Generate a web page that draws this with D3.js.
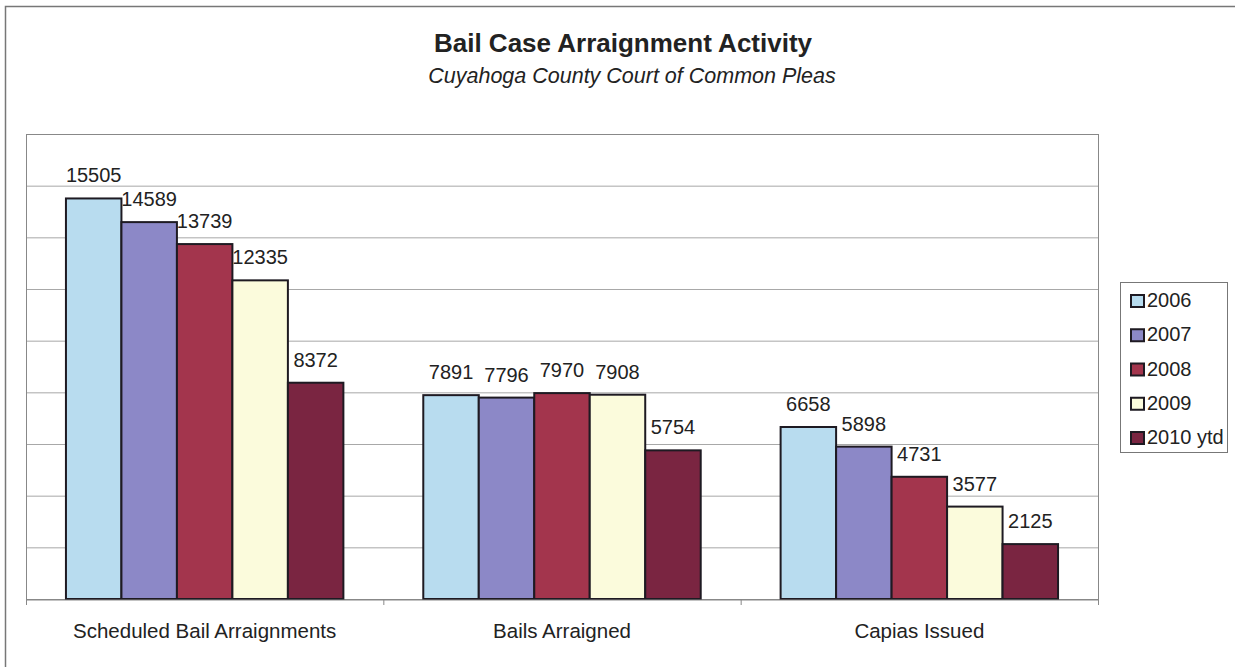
<!DOCTYPE html>
<html><head><meta charset="utf-8">
<script src="https://cdn.jsdelivr.net/npm/d3@7"></script>
<style>body{margin:0;background:#fff}svg{display:block;font-family:"Liberation Sans",Arial,sans-serif}</style>
</head><body><svg id="c" width="1235" height="667"></svg>
<script>
const categories = ["Scheduled Bail Arraignments", "Bails Arraigned", "Capias Issued"];
const seriesNames = ["2006", "2007", "2008", "2009", "2010 ytd"];
const v2006 = [15505, 7891, 6658];
const v2007 = [14589, 7796, 5898];
const v2008 = [13739, 7970, 4731];
const v2009 = [12335, 7908, 3577];
const v2010 = [8372, 5754, 2125];
const colors = ["#b8dcef", "#8c88c7", "#a3354d", "#fbfbdc", "#7a2541"];
const yTicks = [0, 2000, 4000, 6000, 8000, 10000, 12000, 14000, 16000, 18000];

const series = [v2006, v2007, v2008, v2009, v2010];
const svg = d3.select("#c");
const L = 26, R = 1098, T = 134, B = 599;

svg.append("rect").attr("x", 5.5).attr("y", 6.5).attr("width", 1260).attr("height", 700)
  .attr("fill", "none").attr("stroke", "#777").attr("stroke-width", 1.5);

svg.append("text").attr("x", 623).attr("y", 52).attr("text-anchor", "middle")
  .attr("font-size", 26).attr("font-weight", "bold").attr("fill", "#222").text("Bail Case Arraignment Activity");
svg.append("text").attr("x", 632).attr("y", 83).attr("text-anchor", "middle")
  .attr("font-size", 21.5).attr("font-style", "italic").attr("fill", "#222").text("Cuyahoga County Court of Common Pleas");

const y = d3.scaleLinear().domain([0, 18000]).range([B, T]);
const x0 = d3.scaleBand().domain(categories).range([L, R]).paddingInner(0).paddingOuter(0);
const x1 = d3.scaleBand().domain(seriesNames).range([0, x0.bandwidth()]).paddingInner(0).paddingOuter(0.72);

// gridlines
svg.append("g").selectAll("line").data(yTicks.slice(1)).join("line")
  .attr("x1", L).attr("x2", R).attr("y1", d => y(d) + 0.5).attr("y2", d => y(d) + 0.5)
  .attr("stroke", "#a8a8a8").attr("stroke-width", 1);
svg.append("rect").attr("x", L + 0.5).attr("y", T + 0.5).attr("width", R - L).attr("height", B - T)
  .attr("fill", "none").attr("stroke", "#888").attr("stroke-width", 1);

// bars
const groups = svg.append("g").selectAll("g").data(categories).join("g")
  .attr("transform", d => `translate(${x0(d)},0)`);
groups.selectAll("rect").data((c, ci) => seriesNames.map((s, si) => ({s, si, v: series[si][ci]}))).join("rect")
  .attr("x", d => x1(d.s)).attr("width", x1.bandwidth())
  .attr("y", d => y(d.v)).attr("height", d => B - y(d.v))
  .attr("fill", d => colors[d.si]).attr("stroke", "#1e1a22").attr("stroke-width", 2);
groups.selectAll("text").data((c, ci) => seriesNames.map((s, si) => ({s, si, v: series[si][ci]}))).join("text")
  .attr("x", d => x1(d.s) + x1.bandwidth() / 2).attr("y", d => y(d.v) - 16)
  .attr("text-anchor", "middle").attr("font-size", 20).attr("fill", "#222").text(d => d.v);

// x axis
const xAxis = d3.axisBottom(x0).tickSize(0).tickPadding(38);
const ax = svg.append("g").attr("transform", `translate(0,${B + 0.5})`).call(xAxis);
ax.select(".domain").attr("stroke", "#888");
ax.selectAll("text").attr("dy", 0).attr("font-size", 20.5).attr("fill", "#222").attr("font-family", "Liberation Sans, Arial, sans-serif");
svg.append("g").selectAll("line").data([0, 1, 2, 3]).join("line")
  .attr("x1", i => i < 3 ? x0(categories[i]) + 0.5 : R + 0.5).attr("x2", i => i < 3 ? x0(categories[i]) + 0.5 : R + 0.5)
  .attr("y1", B).attr("y2", B + 6).attr("stroke", "#888");

// legend
const lg = svg.append("g");
lg.append("rect").attr("x", 1120.5).attr("y", 282.5).attr("width", 107).attr("height", 170)
  .attr("fill", "#fff").attr("stroke", "#777");
const items = lg.selectAll("g").data(seriesNames).join("g")
  .attr("transform", (d, i) => `translate(1131,${307 + i * 34.25})`);
items.append("rect").attr("x", 0).attr("y", -12).attr("width", 13).attr("height", 12)
  .attr("fill", (d, i) => colors[i]).attr("stroke", "#1e1a22").attr("stroke-width", 2);
items.append("text").attr("x", 16).attr("y", 0).attr("font-size", 20).attr("fill", "#222").text(d => d);
</script></body></html>
